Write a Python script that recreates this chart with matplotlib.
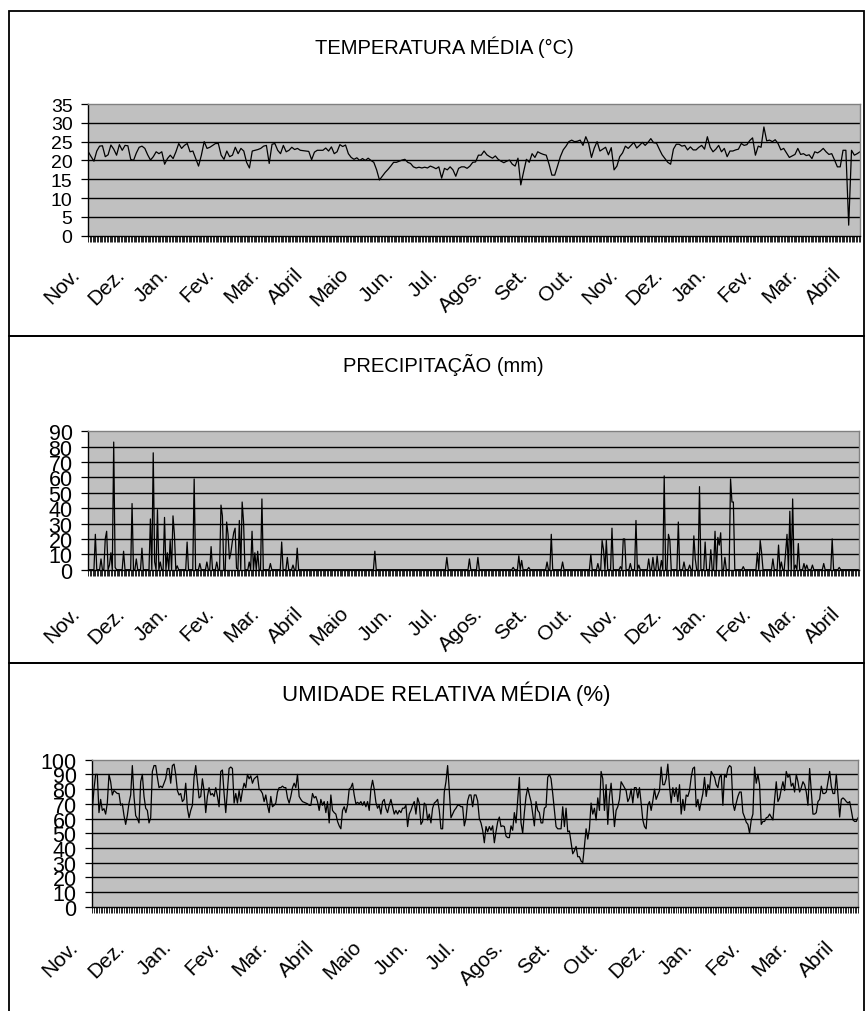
import numpy as np
import matplotlib
matplotlib.use("Agg")
import matplotlib.pyplot as plt
from matplotlib.patches import Rectangle
from matplotlib.transforms import offset_copy

W, H = 866, 1012
FONT = ["Liberation Sans", "Arial", "DejaVu Sans"]
plt.rcParams["font.family"] = FONT

meses_a = ["Nov.", "Dez.", "Jan.", "Fev.", "Mar.", "Abril", "Maio", "Jun.", "Jul.",
           "Agos.", "Set.", "Out.", "Nov.", "Dez.", "Jan.", "Fev.", "Mar.", "Abril"]
meses_b = ["Nov.", "Dez.", "Jan.", "Fev.", "Mar.", "Abril", "Maio", "Jun.", "Jul.",
           "Agos.", "Set.", "Out.", "Dez.", "Jan.", "Fev.", "Mar.", "Abril"]

n_dias = 547

# temperatura media (C), one reading every 2 days
temp_passo = 2
temp_media = [
    22.3, 21.0, 19.8, 22.5, 23.8, 23.9, 21.0, 21.5, 24.1, 23.0,
    21.4, 24.2, 22.7, 24.0, 23.9, 20.3, 20.0, 22.0, 23.5, 23.8,
    23.2, 21.5, 20.1, 21.0, 22.3, 21.8, 22.3, 19.0, 20.5, 21.4,
    20.5, 22.3, 24.5, 23.2, 24.0, 24.5, 22.3, 22.5, 20.5, 18.5,
    21.4, 25.0, 23.2, 23.5, 24.0, 24.5, 24.5, 21.4, 20.3, 22.5,
    21.0, 21.4, 23.5, 21.8, 23.2, 22.5, 19.5, 18.0, 22.5, 22.7,
    22.9, 23.2, 23.8, 24.0, 19.2, 24.3, 24.5, 22.7, 21.8, 24.0,
    22.3, 22.7, 23.5, 22.9, 23.2, 22.7, 22.6, 22.5, 22.4, 20.2,
    22.2, 22.7, 22.7, 22.7, 23.3, 22.5, 23.6, 21.8, 22.3, 24.2,
    23.7, 24.1, 21.8, 20.8, 20.3, 20.7, 20.0, 20.5, 20.0, 20.6,
    20.0, 19.5, 17.5, 14.8, 15.8, 16.8, 17.6, 18.5, 19.5, 19.5,
    19.8, 20.1, 20.3, 19.5, 19.2, 18.3, 18.0, 18.2, 18.0, 18.2,
    18.0, 18.5, 18.2, 17.8, 18.3, 15.3, 17.9, 17.5, 18.3, 17.5,
    15.8, 17.9, 18.3, 18.3, 17.9, 18.5, 19.5, 19.6, 21.4, 21.4,
    22.5, 21.5, 21.0, 20.6, 21.2, 20.3, 19.8, 19.4, 19.8, 20.1,
    19.0, 18.5, 20.6, 13.5, 17.0, 20.3, 19.5, 21.8, 20.8, 22.3,
    21.9, 21.6, 21.4, 19.0, 16.1, 16.1, 18.5, 21.0, 22.8, 23.8,
    25.0, 25.4, 25.0, 25.1, 25.4, 24.0, 26.3, 24.5, 20.8, 23.3,
    25.0, 22.5, 23.0, 23.5, 21.5, 23.4, 17.5, 18.5, 21.0, 22.0,
    23.8, 23.2, 24.0, 24.8, 23.3, 24.0, 24.8, 24.0, 24.8, 25.8,
    24.7, 24.6, 23.0, 21.5, 20.5, 19.5, 19.0, 23.0, 24.3, 24.3,
    23.8, 24.0, 22.8, 23.6, 22.8, 22.8, 23.5, 24.0, 23.0, 26.3,
    23.5, 22.3, 23.0, 24.0, 22.3, 23.2, 21.0, 22.5, 22.5, 22.8,
    23.0, 24.5, 24.0, 24.2, 25.3, 26.0, 21.4, 23.8, 23.5, 28.9,
    25.2, 25.4, 25.0, 25.5, 24.5, 22.8, 23.2, 22.0, 20.8, 21.2,
    21.6, 23.2, 21.6, 21.8, 21.3, 21.5, 20.5, 22.3, 22.0, 22.5,
    23.2, 22.3, 21.6, 21.8, 20.1, 18.3, 18.3, 22.7, 22.7, 2.8,
    22.7, 21.4, 21.8, 22.3,
]

# precipitacao (mm): only the days with rain, all other days are 0
chuva_dia = [
    5, 9, 12, 13, 15, 16, 18, 19, 25, 31, 34, 38, 44, 46, 47, 49, 51, 54, 56, 58,
    60, 61, 63, 70, 75, 79, 84, 87, 91, 94, 95, 98, 99, 100, 101, 102, 103, 104, 105, 107,
    109, 110, 114, 116, 118, 120, 123, 129, 137, 141, 145, 148, 203, 254, 270, 276, 301, 305, 307, 312,
    325, 328, 336, 356, 361, 364, 365, 367, 371, 377, 379, 380, 384, 388, 390, 397, 400, 403, 406, 408,
    411, 412, 418, 422, 426, 429, 430, 433, 437, 441, 444, 446, 447, 448, 451, 455, 456, 457, 464, 474,
    476, 477, 485, 489, 491, 494, 495, 497, 499, 501, 503, 507, 509, 513, 521, 527, 532,
]
chuva_mm = [
    23, 7, 20, 25, 3, 11, 83, 1.5, 12, 43, 7, 14, 33, 76, 5, 39, 5, 34, 11, 19,
    35, 23, 2.5, 18, 59, 4, 5, 15, 5, 42, 35, 31, 23, 7, 11, 18, 24, 27, 1, 32,
    44, 31, 5, 25, 11, 12, 46, 4, 18, 8, 3, 14, 12, 8, 7, 8, 1.5, 9, 6, 1.5,
    5, 23, 5, 10, 4, 19, 13, 19, 27, 2, 20, 20, 4, 32, 3, 7, 8, 9, 6, 61,
    23, 19, 31, 5, 3, 22, 7, 54, 18, 13, 25, 21, 16, 24, 8, 59, 44, 44, 2, 11,
    19, 11, 7, 16, 5, 11, 23, 38, 46, 3, 17, 4, 3, 3, 4, 20, 1.5,
]

# umidade relativa media (%)
umidade = [
    66, 80, 90, 90, 64, 73, 65.5, 66.7, 63, 70.5,
    90, 85, 76, 79, 78, 77, 77, 69, 70, 62,
    56, 62, 70.5, 76, 96, 75, 62, 60, 57, 85,
    90, 75, 67, 65.5, 57, 60.5, 92, 96, 96, 88,
    81, 82, 81, 84, 87, 94, 94, 84, 96, 97,
    90, 79, 76, 77, 71.5, 73, 84, 67, 60.5, 65.5,
    69, 88, 96, 85, 74, 75, 87, 79, 64, 75,
    81, 76, 77, 75, 81, 75, 68, 92, 93, 77,
    64, 79, 94, 95, 94, 70.5, 77, 70.5, 79, 71.5,
    79, 84, 81, 90, 87, 89, 84, 87, 88, 89,
    80, 79, 77, 71.5, 76, 69, 64, 75, 68, 69,
    70.5, 78, 81, 81, 82, 81, 81, 74, 70.5, 75,
    81, 84, 81, 90, 75, 73, 71.5, 71, 70.5, 70,
    69, 69, 77, 74, 75, 71.5, 65.5, 73, 69, 71.5,
    64, 71.5, 57, 76, 65.5, 64, 63, 58, 55, 53,
    65.5, 68, 64, 69, 80, 81, 84, 76, 70, 71,
    70, 71.5, 69, 71.5, 68, 71.5, 65.5, 80, 86, 80,
    71, 67, 69, 63, 71.5, 73, 67, 64, 69, 73,
    68, 63, 65.5, 63, 65.5, 64, 67, 67, 69, 54.5,
    63, 65.5, 69, 71.5, 63, 74, 70.5, 56, 58, 70.5,
    69, 59, 63, 57, 67, 70.5, 71.5, 73, 65.5, 53,
    53, 78, 85, 96, 79, 60.5, 63, 65.5, 67, 69,
    69, 68, 68, 55, 60, 72, 76, 76, 68, 76,
    76, 72, 60, 57, 52, 43.5, 54.5, 51, 54.5, 52,
    55, 43.5, 51, 57.7, 61, 54.5, 55, 54.5, 48, 47,
    47, 55, 52, 64, 57, 72, 88, 57, 50, 64,
    75, 81, 76, 71.5, 63, 55, 71.5, 65.5, 64, 57,
    57, 67, 68, 88, 90, 87, 77, 65.5, 54.5, 53,
    53, 53, 68, 54.5, 67, 51, 51.5, 43.5, 36, 38,
    41, 34, 34, 31, 30, 41, 53, 46, 53, 70.5,
    63, 67, 59, 74, 65.5, 92, 87, 65.5, 83, 56,
    75, 84, 70, 54.5, 65.5, 68, 73, 85, 83, 81,
    79, 71.5, 74, 80, 70.5, 81, 81, 74, 81, 70.5,
    59, 54.5, 53, 69, 71.5, 65.5, 72, 80, 73, 76,
    79, 95, 83, 83, 87, 97, 82, 70.5, 81, 75,
    81, 71.5, 83, 63, 73, 65.5, 76, 75, 79, 88,
    94, 95, 68, 73, 65.5, 71.5, 77, 88, 75, 83,
    80, 92, 90, 88, 83, 81, 88, 90, 69, 90,
    88, 94, 96, 95, 70.5, 65.5, 70.5, 75, 78, 78,
    64, 61, 57.5, 56, 50, 59, 63, 95, 84, 90,
    83, 56, 58, 58, 60.5, 61, 63, 61, 59, 73,
    85, 71.5, 74, 80, 85, 79, 92, 88, 90, 82,
    84, 78, 90, 85, 78, 81, 85, 83, 78, 69,
    94, 78, 63, 63, 64, 71.5, 73, 82, 77, 77,
    78, 85, 92, 82, 77, 77, 90, 76, 61, 73,
    74, 73, 71.5, 70.5, 71.5, 65.5, 59, 58, 58, 60.5,
]

fig = plt.figure(figsize=(W / 100, H / 100), dpi=100)
fig.patch.set_facecolor("white")


def eixo(left, top, right, bottom):
    return fig.add_axes([left / W, 1 - bottom / H, (right - left) / W, (bottom - top) / H])


def moldura(top, bottom):
    fig.add_artist(Rectangle((9 / W, 1 - bottom / H), (864 - 9) / W, (bottom - top) / H,
                             transform=fig.transFigure, fill=False, ec="black", lw=1.3))


def painel(ax, x, y, xmax, ymax, ystep, minor_x, titulo, tx, ty, tsize,
           meses, m_x0, m_dx, m_gap, ysize):
    ax.set_facecolor("#c0c0c0")
    ax.plot(x, y, color="black", lw=0.9)
    ax.set_xlim(0, xmax)
    ax.set_ylim(0, ymax)
    yt = np.arange(0, ymax + 1, ystep)
    ax.set_yticks(yt)
    ax.set_yticklabels([str(v) for v in yt], fontsize=ysize)
    for v in yt[1:-1]:
        ax.axhline(v, color="black", lw=1.0, zorder=1)
    ax.set_xticks([])
    ax.set_xticks(minor_x, minor=True)
    ax.tick_params(axis="x", which="minor", length=4.6, width=0.6, color="black", direction="out")
    ax.tick_params(axis="y", length=4.8, width=0.9, pad=6.5, direction="out")
    for s in ["top", "right"]:
        ax.spines[s].set_color("#808080")
        ax.spines[s].set_linewidth(1.0)
    for s in ["left", "bottom"]:
        ax.spines[s].set_color("black")
        ax.spines[s].set_linewidth(1.0)
    fig.text(tx / W, 1 - ty / H, titulo, ha="center", va="center", fontsize=tsize)
    trans = offset_copy(ax.transAxes, fig=fig, x=0, y=-m_gap, units="dots")
    for i, m in enumerate(meses):
        ax.text(m_x0 + i * m_dx, 0, m, transform=trans, rotation=45,
                rotation_mode="anchor", ha="right", va="top", fontsize=15,
                clip_on=False)


moldura(12, 337)
moldura(337, 664)
fig.add_artist(Rectangle((9 / W, -0.05), (864 - 9) / W, 1.05 - 664 / H,
                         transform=fig.transFigure, fill=False, ec="black", lw=1.3))

# temperatura
ax1 = eixo(88.3, 105, 860, 236.7)
x_temp = np.arange(len(temp_media)) * temp_passo
painel(ax1, x_temp, temp_media, n_dias - 1, 35, 5, np.arange(n_dias),
       "TEMPERATURA MÉDIA (°C)", 444, 47.5, 14.5,
       meses_a, -0.024, 0.0581, 28, 14)

# precipitacao
chuva = np.zeros(n_dias)
chuva[chuva_dia] = chuva_mm
ax2 = eixo(88.3, 432.3, 859, 570.7)
painel(ax2, np.arange(n_dias), chuva, n_dias - 1, 90, 10, np.arange(n_dias),
       "PRECIPITAÇÃO (mm)", 443, 365, 14.5,
       meses_a, -0.024, 0.0581, 33, 15.5)

# umidade
ax3 = eixo(92.3, 760.7, 858, 907.7)
n_u = len(umidade)
painel(ax3, np.arange(n_u), umidade, n_u - 1, 100, 10, np.arange(n_u),
       "UMIDADE RELATIVA MÉDIA (%)", 446, 694, 16,
       meses_b, -0.032, 0.0618, 30, 15.5)

fig.savefig("out.png", dpi=100, facecolor="white")
